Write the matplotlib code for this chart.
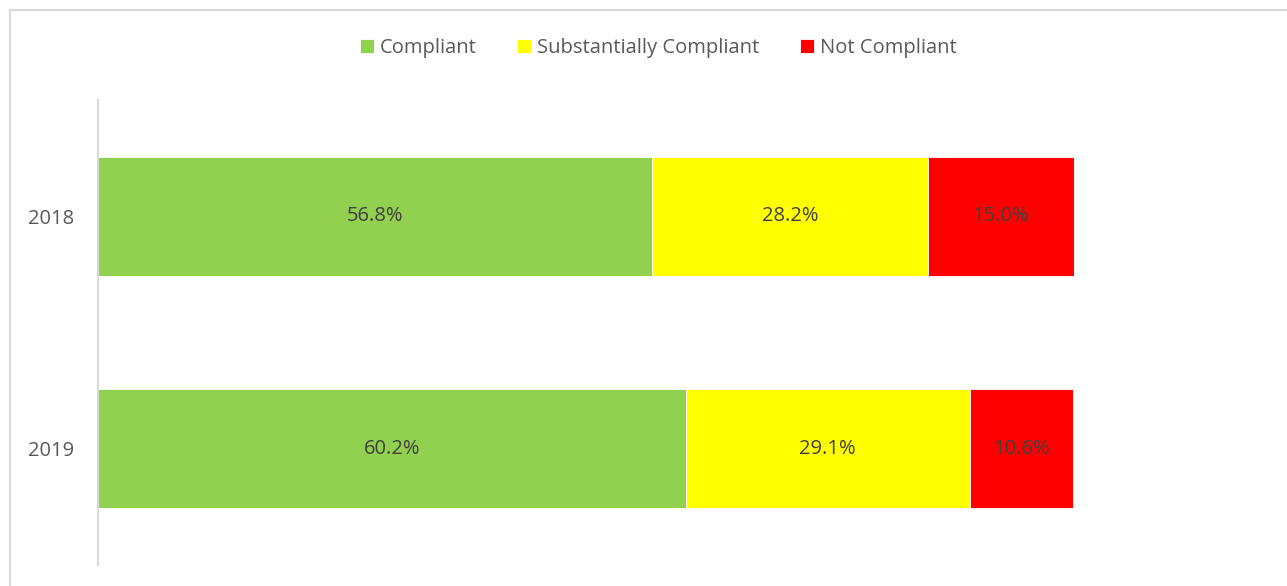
import matplotlib.pyplot as plt
import matplotlib.patches as mpatches
import numpy as np

years = ['2018', '2019']
compliant = [56.8, 60.2]
substantial = [28.2, 29.1]
not_compliant = [15.0, 10.6]
series_names = ['Compliant', 'Substantially Compliant', 'Not Compliant']
colors = ['#92D050', '#FFFF00', '#FF0000']

plt.rcParams['font.family'] = ['Open Sans', 'DejaVu Sans']

W, H = 1287, 586
fig = plt.figure(figsize=(W / 100, H / 100), dpi=100)
ax = fig.add_axes([98 / W, 1 - 565 / H, (1074 - 98) / W, (565 - 100) / H])

# outer chart border
fig.patches.append(mpatches.Rectangle((10 / W, -0.1), 1.2, 1 - 10 / H + 0.1,
                                      transform=fig.transFigure, fill=False,
                                      edgecolor='#D9D9D9', linewidth=1.5))

ypos = np.arange(len(years))
left = np.zeros(len(years))
series = [compliant, substantial, not_compliant]
for name, vals, c in zip(series_names, series, colors):
    vals = np.array(vals)
    ax.barh(ypos, vals, left=left, height=0.51, color=c, label=name,
            edgecolor='white', linewidth=0.6)
    for y, l, v in zip(ypos, left, vals):
        ax.text(l + v / 2, y, f'{v:.1f}%', ha='center', va='center',
                fontsize=14.5, color='#404040')
    left += vals

ax.set_xlim(0, 100)
ax.set_ylim(1.5, -0.5)
ax.set_yticks(ypos)
ax.set_yticklabels(years, fontsize=14.5, color='#595959')
ax.tick_params(axis='y', length=0, pad=17)
ax.set_xticks([])
for s in ['top', 'right', 'bottom']:
    ax.spines[s].set_visible(False)
ax.spines['left'].set_color('#D9D9D9')
ax.spines['left'].set_linewidth(1.5)

leg = fig.legend(loc='center', bbox_to_anchor=(658 / W, 1 - 48 / H), ncol=3,
                 frameon=False, fontsize=14.5, handlelength=0.7, handleheight=0.7,
                 handletextpad=0.3, columnspacing=2.0)
for t in leg.get_texts():
    t.set_color('#595959')

fig.savefig('out.png', dpi=100)
